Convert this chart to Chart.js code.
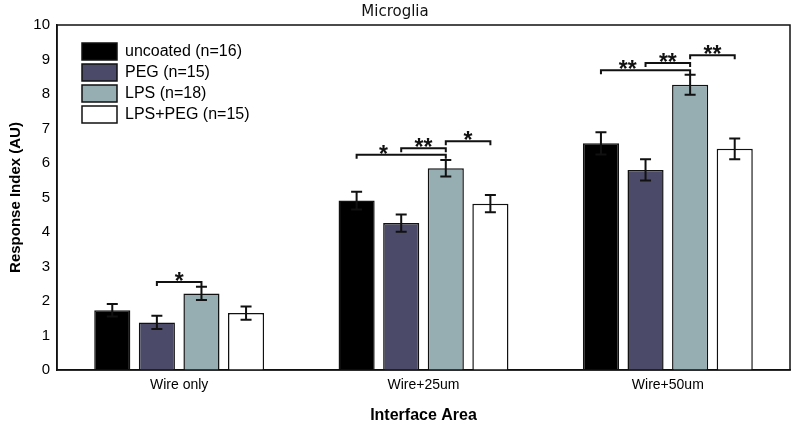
<!DOCTYPE html>
<html>
<head>
<meta charset="utf-8">
<title>Microglia</title>
<script src="https://cdn.jsdelivr.net/npm/chart.js@4"></script>
</head>
<body>
  <div style="width: 797px; height: 429px;">
    <canvas id="microglia"></canvas>
  </div>
  <style>
    body {
      margin: 0;
      background: #fff;
    }
  </style>

  <script>
    // data
    const areas = ["Wire only", "Wire+25um", "Wire+50um"];
    const groups = ["uncoated (n=16)", "PEG (n=15)", "LPS (n=18)", "LPS+PEG (n=15)"];
    const colors = ["#000000", "#4b4b69", "#96adb2", "#ffffff"];

    const uncoated = [1.73, 4.91, 6.57];
    const peg = [1.38, 4.26, 5.80];
    const lps = [2.22, 5.85, 8.27];
    const lpsPeg = [1.65, 4.82, 6.41];

    const uncoatedErr = [0.18, 0.26, 0.32];
    const pegErr = [0.19, 0.25, 0.31];
    const lpsErr = [0.19, 0.24, 0.29];
    const lpsPegErr = [0.19, 0.25, 0.30];

    // significance brackets: category, from group, to group, height, label, label position along bracket
    const bracketArea = [0, 1, 1, 1, 2, 2, 2];
    const bracketFrom = [1, 0, 1, 2, 0, 1, 2];
    const bracketTo = [2, 2, 2, 3, 2, 2, 3];
    const bracketLevel = [2.55, 6.24, 6.43, 6.63, 8.69, 8.90, 9.12];
    const bracketLabel = ["*", "*", "**", "*", "**", "**", "**"];
    const bracketLabelAt = [0.5, 0.3, 0.5, 0.5, 0.3, 0.5, 0.5];

    const values = [uncoated, peg, lps, lpsPeg];
    const errors = [uncoatedErr, pegErr, lpsErr, lpsPegErr];

    const frame = {
      id: "frame",
      afterDatasetsDraw(chart) {
        const {ctx, chartArea: a, scales: {y}} = chart;
        ctx.save();
        ctx.strokeStyle = "#111";
        ctx.lineWidth = 2;

        // error bars
        errors.forEach((errs, d) => {
          chart.getDatasetMeta(d).data.forEach((bar, i) => {
            const top = y.getPixelForValue(values[d][i] + errs[i]);
            const bot = y.getPixelForValue(values[d][i] - errs[i]);
            ctx.beginPath();
            ctx.moveTo(bar.x, top);
            ctx.lineTo(bar.x, bot);
            ctx.moveTo(bar.x - 5.5, top);
            ctx.lineTo(bar.x + 5.5, top);
            ctx.moveTo(bar.x - 5.5, bot);
            ctx.lineTo(bar.x + 5.5, bot);
            ctx.stroke();
          });
        });

        // significance brackets
        ctx.fillStyle = "#111";
        ctx.font = "bold 23px 'Liberation Sans', Arial, sans-serif";
        ctx.textAlign = "center";
        ctx.textBaseline = "alphabetic";
        bracketArea.forEach((c, k) => {
          const x1 = chart.getDatasetMeta(bracketFrom[k]).data[c].x;
          const x2 = chart.getDatasetMeta(bracketTo[k]).data[c].x;
          const yy = y.getPixelForValue(bracketLevel[k]);
          ctx.beginPath();
          ctx.moveTo(x1, yy + 4);
          ctx.lineTo(x1, yy);
          ctx.lineTo(x2, yy);
          ctx.lineTo(x2, yy + 4);
          ctx.stroke();
          ctx.fillText(bracketLabel[k], x1 + (x2 - x1) * bracketLabelAt[k], yy + 7);
        });

        // box around the plot
        ctx.lineWidth = 1.5;
        ctx.strokeRect(a.left, a.top, a.right - a.left, a.bottom - a.top);
        ctx.restore();
      }
    };

    // put the legend in the upper left of the plot area
    const legendShift = {
      id: "legendShift",
      afterLayout(chart) {
        chart.legend.left = chart.chartArea.left + 21;
        chart.legend.top = chart.chartArea.top + 14;
      }
    };

    new Chart(document.getElementById("microglia"), {
      type: "bar",
      data: {
        labels: areas,
        datasets: groups.map((g, d) => ({
          label: g,
          data: values[d],
          backgroundColor: colors[d],
          borderColor: "#111",
          borderWidth: 1.5,
          categoryPercentage: 0.73,
          barPercentage: 0.81
        }))
      },
      options: {
        responsive: true,
        maintainAspectRatio: false,
        animation: false,
        layout: {padding: {left: 0, right: 7, top: 0, bottom: 0}},
        plugins: {
          title: {
            display: true,
            text: "Microglia",
            color: "#111",
            font: {family: "'DejaVu Sans', sans-serif", size: 15, weight: "normal"},
            padding: {top: 3, bottom: 4}
          },
          legend: {
            position: "chartArea",
            align: "start",
            labels: {
              boxWidth: 35,
              boxHeight: 17,
              padding: 4,
              color: "#000",
              font: {family: "'Liberation Sans', Arial, sans-serif", size: 16}
            }
          },
          tooltip: {enabled: false}
        },
        scales: {
          x: {
            grid: {display: false, drawTicks: false},
            border: {display: true, color: "#111", width: 1.5},
            ticks: {
              padding: 7,
              color: "#000",
              font: {family: "'Liberation Sans', Arial, sans-serif", size: 14}
            },
            title: {
              display: true,
              text: "Interface Area",
              color: "#000",
              font: {family: "'Liberation Sans', Arial, sans-serif", size: 16, weight: "bold"},
              padding: {top: 0, bottom: 4}
            },
            afterFit(scale) { scale.height = 59; }
          },
          y: {
            min: 0,
            max: 10,
            grid: {display: false, drawTicks: false},
            border: {display: true, color: "#111", width: 1.5},
            ticks: {
              stepSize: 1,
              padding: 7,
              color: "#000",
              font: {family: "'Liberation Sans', Arial, sans-serif", size: 15}
            },
            title: {
              display: true,
              text: "Response Index (AU)",
              color: "#000",
              font: {family: "'Liberation Sans', Arial, sans-serif", size: 15, weight: "bold"},
              padding: {top: 7, bottom: 0}
            },
            afterFit(scale) { scale.width = 57; }
          }
        }
      },
      plugins: [frame, legendShift]
    });
  </script>
</body>
</html>
